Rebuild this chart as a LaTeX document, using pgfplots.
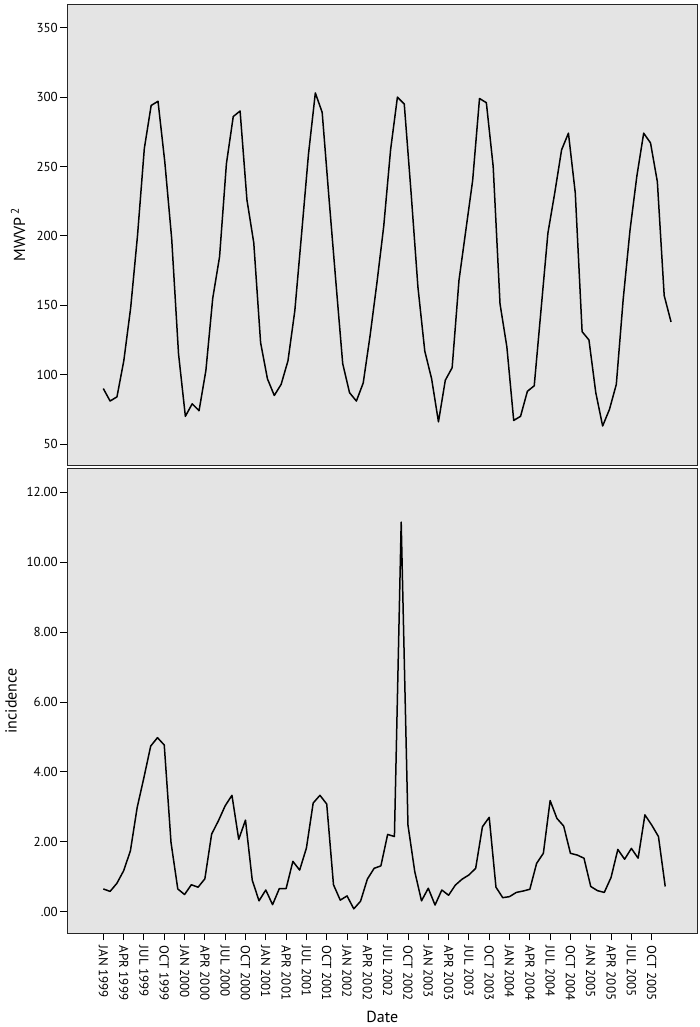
\documentclass[border=0pt]{standalone}
\usepackage{fontspec}
\setmainfont{PT Sans}
\usepackage{pgfplots}
\usepackage{pgfplotstable}
\pgfplotsset{compat=1.18}

\definecolor{panel}{RGB}{228,228,228}

% month index (0 = Jan 1999) and value
\pgfplotstableread{
m v
0 90
1 81
2 84
3 110
4 148
5 200
6 263
7 294
8 297
9 253
10 198
11 115
12 70
13 79
14 74
15 103
16 155
17 185
18 252
19 286
20 290
21 226
22 195
23 123
24 97
25 85
26 93
27 110
28 146
29 202
30 259
31 303
32 289
33 227
34 167
35 108
36 87
37 81
38 94
39 128
40 166
41 207
42 262
43 300
44 295
45 231
46 163
47 117
48 97
49 66
50 96
51 105
52 168
53 204
54 240
55 299
56 296
57 250
58 151
59 120
60 67
61 70
62 88
63 92
64 147
65 202
66 231
67 262
68 274
69 231
70 131
71 125
72 87
73 63
74 75
75 93
76 154
77 204
78 243
79 274
80 267
81 239
82 157
83 138
}\mwvp

\pgfplotstableread{
m v
0 0.65
1 0.58
2 0.81
3 1.17
4 1.74
5 2.98
6 3.84
7 4.74
8 4.98
9 4.77
10 1.98
11 0.65
12 0.49
13 0.77
14 0.70
15 0.94
16 2.22
17 2.60
18 3.03
19 3.33
20 2.07
21 2.62
22 0.90
23 0.31
24 0.62
25 0.20
26 0.66
27 0.66
28 1.44
29 1.19
30 1.82
31 3.11
32 3.33
33 3.08
34 0.77
35 0.33
36 0.45
37 0.08
38 0.30
39 0.93
40 1.24
41 1.31
42 2.21
43 2.15
44 11.15
45 2.48
46 1.15
47 0.31
48 0.67
49 0.19
50 0.62
51 0.47
52 0.76
53 0.93
54 1.05
55 1.24
56 2.43
57 2.70
58 0.70
59 0.40
60 0.43
61 0.55
62 0.59
63 0.64
64 1.38
65 1.67
66 3.18
67 2.67
68 2.45
69 1.67
70 1.62
71 1.53
72 0.72
73 0.60
74 0.55
75 0.98
76 1.78
77 1.50
78 1.81
79 1.53
80 2.77
81 2.48
82 2.15
83 0.72
}\incid

\pgfplotsset{
  panel/.style={
    width=630pt, scale only axis,
    anchor=north west,
    axis background/.style={fill=panel},
    axis line style={black!85, line width=0.9pt},
    tick style={black, line width=0.9pt},
    tick align=outside,
    major tick length=7pt,
    ytick pos=left,
    xtick pos=bottom,
    /pgf/number format/assume math mode=true,
    ticklabel style={font=\fontsize{13}{15}\selectfont},
    label style={font=\fontsize{16}{18}\selectfont},
    yticklabel style={xshift=1pt},
  },
}

\begin{document}
\begin{tikzpicture}[x=1pt,y=1pt]
\path[use as bounding box] (0,0) rectangle (700,-1027);

\begin{axis}[panel,
  at={(67.3pt,-4pt)}, height=461pt,
  xmin=-5.26, xmax=86.84,
  ymin=34.9, ymax=367.1,
  xtick=\empty,
  ytick={50,100,150,200,250,300,350},
  yticklabels={50,100,150,200,250,300,350},
  ylabel={MWVP\,\textsuperscript{2}},
  ylabel style={at={(axis description cs:0,0.5)}, anchor=center, yshift=49.3pt},
]
\addplot[black, line width=1.5pt, line join=round] table[x=m, y=v] {\mwvp};
\end{axis}

\begin{axis}[panel,
  at={(67.3pt,-468.3pt)}, height=465pt,
  xmin=-5.32, xmax=87.74,
  ymin=-0.62, ymax=12.69,
  xtick={0,3,...,81},
  xticklabels={JAN 1999,APR 1999,JUL 1999,OCT 1999,
    JAN 2000,APR 2000,JUL 2000,OCT 2000,
    JAN 2001,APR 2001,JUL 2001,OCT 2001,
    JAN 2002,APR 2002,JUL 2002,OCT 2002,
    JAN 2003,APR 2003,JUL 2003,OCT 2003,
    JAN 2004,APR 2004,JUL 2004,OCT 2004,
    JAN 2005,APR 2005,JUL 2005,OCT 2005},
  xticklabel style={rotate=-90, anchor=west, xshift=2pt},
  ytick={0,2,4,6,8,10,12},
  yticklabels={.00,2.00,4.00,6.00,8.00,10.00,12.00},
  ylabel={incidence},
  ylabel style={at={(axis description cs:0,0.5)}, anchor=center, yshift=56.3pt},
  xlabel={Date},
  xlabel style={at={(axis description cs:0.5,0)}, anchor=center, yshift=-83.7pt},
]
\addplot[black, line width=1.5pt, line join=round] table[x=m, y=v] {\incid};
\end{axis}
\end{tikzpicture}
\end{document}
